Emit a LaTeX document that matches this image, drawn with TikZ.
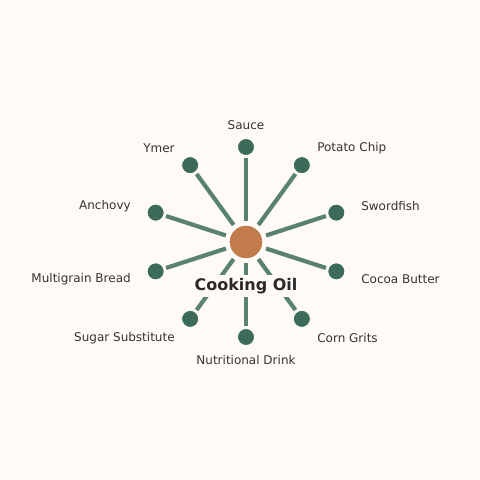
\documentclass[tikz,border=0pt]{standalone}
\usepackage{fontspec}
\setmainfont{DejaVu Sans}
\definecolor{bg}{HTML}{FFFAF6}
\definecolor{spoke}{HTML}{5A8272}
\definecolor{dot}{HTML}{3D6B5A}
\definecolor{hub}{HTML}{C27B4A}
\definecolor{txt}{HTML}{333333}
\tikzset{
  hubnode/.style={circle, fill=hub, draw=white, line width=1.2pt, minimum size=34pt, inner sep=0pt},
  leaf/.style={circle, fill=dot, draw=white, line width=0.8pt, minimum size=17pt, inner sep=0pt},
  spokeline/.style={draw=spoke, line width=4.2pt, shorten <=3.5pt, shorten >=2pt},
  lbl/.style={text=txt, font=\fontsize{12}{14}\selectfont, inner sep=0pt},
  title/.style={text=txt!80!black, fill=bg, font=\bfseries\fontsize{16}{19}\selectfont, inner sep=3pt}
}
\begin{document}
\begin{tikzpicture}[x=1pt,y=-1pt]
\fill[bg] (0,0) rectangle (480,480);
\useasboundingbox (0,0) rectangle (480,480);
\node[hubnode] (c) at (246,242) {};
\foreach \i/\a/\t/\anc in {1/90/Sauce/center, 2/54/Potato Chip/west, 3/18/Swordfish/west, 4/-18/Cocoa Butter/west, 5/-54/Corn Grits/west, 6/-90/Nutritional Drink/center, 7/-126/Sugar Substitute/east, 8/-162/Multigrain Bread/east, 9/162/Anchovy/east, 10/126/Ymer/east}{
  \node[leaf] (n\i) at ({246+95*cos(\a)},{242-95*sin(\a)}) {};
  \node[lbl, anchor=\anc] (l\i) at ({246+121*cos(\a)},{242.8-117.5*sin(\a)}) {\t};
  \draw[spokeline] (c) -- (n\i);
}
\node[hubnode] at (c) {};
\node[title] (t) at (246,286) {Cooking Oil};
\end{tikzpicture}
\end{document}
